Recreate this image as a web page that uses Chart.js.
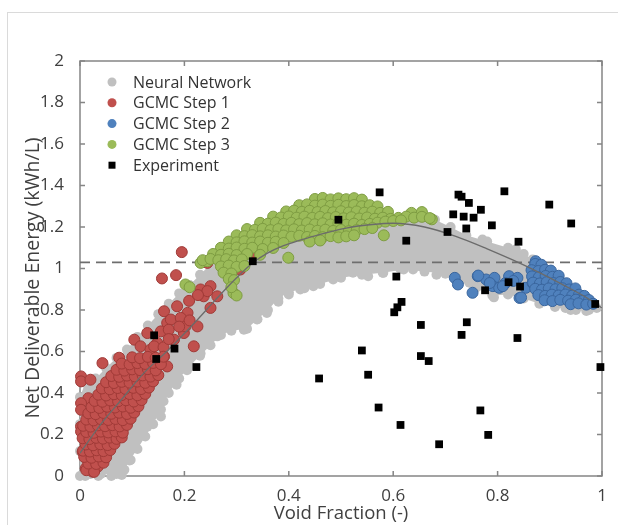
<!DOCTYPE html>
<html>
<head>
<meta charset="utf-8">
<script src="https://cdn.jsdelivr.net/npm/chart.js@4.4.1/dist/chart.umd.min.js"></script>
<style>
  html, body { margin: 0; padding: 0; background: #fff; }
  #wrap { position: relative; width: 618px; height: 525px; overflow: hidden; }
  #frame { position: absolute; left: 7px; top: 12px; width: 700px; height: 600px;
           border-left: 1px solid #dadada; border-top: 1px solid #dadada; pointer-events: none; }
</style>
</head>
<body>
<div id="wrap">
  <canvas id="chart" width="618" height="525"></canvas>
  <div id="frame"></div>
</div>
<script>
// axis tick labels and titles
const xTickLabels = ['0', '0.2', '0.4', '0.6', '0.8', '1'];
const yTickLabels = ['0', '0.2', '0.4', '0.6', '0.8', '1', '1.2', '1.4', '1.6', '1.8', '2'];
const xTitle = 'Void Fraction (-)';
const yTitle = 'Net Deliverable Energy (kWh/L)';

// outline of the dense neural network cloud (upper edge left->right, lower edge right->left)
const nnBand = [
  [0.0,0.0],[0.0,0.12],[0.0,0.25],[0.0,0.38],[0.01,0.45],[0.03,0.47],[0.05,0.52],[0.07,0.57],
  [0.09,0.61],[0.11,0.67],[0.13,0.725],[0.15,0.78],[0.17,0.83],[0.19,0.88],[0.21,0.92],[0.23,0.97],
  [0.25,1.02],[0.27,1.07],[0.29,1.1],[0.33,1.14],[0.38,1.18],[0.45,1.21],[0.55,1.23],[0.63,1.24],
  [0.68,1.235],[0.71,1.2],[0.74,1.16],[0.78,1.13],[0.82,1.1],[0.85,1.07],[0.87,1.04],[0.90,0.99],
  [0.93,0.93],[0.96,0.87],[0.985,0.83],[0.99,0.81],
  [0.97,0.795],[0.94,0.80],[0.91,0.815],[0.88,0.83],[0.85,0.855],[0.82,0.875],[0.79,0.87],[0.76,0.91],
  [0.73,0.945],[0.70,0.975],[0.66,0.985],[0.62,0.995],[0.58,0.98],[0.54,0.97],[0.50,0.955],[0.46,0.925],
  [0.43,0.905],[0.40,0.885],[0.38,0.855],[0.36,0.80],[0.34,0.755],[0.32,0.71],[0.29,0.70],[0.27,0.68],
  [0.25,0.63],[0.23,0.58],[0.21,0.53],[0.19,0.47],[0.17,0.40],[0.155,0.32],[0.14,0.25],[0.125,0.19],
  [0.11,0.13],[0.095,0.075],[0.085,0.03],[0.07,0.01],[0.04,0.01],[0.02,0.01]
];

// loose neural network points around the edges of the cloud
const nnPoints = [
  [0.097,0.077],[0.072,0.045],[0.104,0.174],[0.129,0.238],[0.155,0.287],[0.16,0.36],[0.185,0.44],
  [0.205,0.51],[0.231,0.59],[0.263,0.673],[0.294,0.74],[0.314,0.705],[0.339,0.754],[0.358,0.786],
  [0.38,0.84],[0.40,0.875],[0.422,0.899],[0.447,0.915],[0.485,0.947],[0.523,0.98],[0.552,0.963],
  [0.581,0.979],[0.613,1.0],[0.638,0.995],[0.683,0.97],[0.746,0.931],[0.793,0.861],[0.95,0.80],
  [0.93,0.81],[0.975,0.80],[0.676,1.229],[0.727,1.15],[0.771,1.14],[0.835,1.092],[0.867,1.043],
  [0.01,0.0],[0.035,0.0],[0.06,0.0],[0.08,0.005],[0.35,0.80]
];

const gcmcStep1 = [
  // sparse points
  [0.002,0.48],[0.002,0.456],[0.020,0.464],[0.043,0.544],[0.016,0.375],[0.002,0.351],[0.002,0.319],
  [0.002,0.238],[0.002,0.214],[0.005,0.117],[0.015,0.077],[0.011,0.037],[0.024,0.021],[0.034,0.045],
  [0.167,0.528],[0.161,0.576],[0.180,0.657],[0.199,0.689],[0.218,0.625],[0.225,0.721],[0.206,0.786],
  [0.186,0.818],[0.161,0.794],[0.231,0.899],[0.25,0.915],[0.25,0.81],[0.237,0.866],[0.263,0.866],
  [0.104,0.657],[0.116,0.625],[0.135,0.609],[0.148,0.641],[0.129,0.689],[0.155,0.697],[0.167,0.738],
  [0.195,1.079],[0.157,0.952],[0.184,0.968],[0.209,0.844],[0.244,0.891],[0.174,0.754],[0.193,0.762],
  [0.202,0.721],[0.170,0.705],[0.142,0.625],[0.16,0.62],[0.17,0.66],[0.19,0.72],[0.21,0.75],
  [0.244,1.027],[0.307,0.995],[0.333,1.076],[0.358,1.14],[0.226,0.872],[0.075,0.57],
  // dense cluster, row by row
  [0.012,0.028],[0.027,0.02],
  [0.016,0.06],[0.031,0.058],[0.045,0.064],
  [0.008,0.092],[0.022,0.088],[0.036,0.094],[0.05,0.09],
  [0.006,0.122],[0.019,0.118],[0.032,0.124],[0.045,0.12],[0.058,0.125],
  [0.011,0.152],[0.025,0.148],[0.039,0.153],[0.053,0.149],[0.066,0.155],
  [0.005,0.182],[0.018,0.178],[0.031,0.184],[0.044,0.18],[0.057,0.185],[0.07,0.179],[0.08,0.186],
  [0.012,0.212],[0.026,0.208],[0.04,0.214],[0.054,0.21],[0.068,0.215],[0.082,0.209],
  [0.006,0.242],[0.02,0.238],[0.034,0.244],[0.048,0.24],[0.062,0.245],[0.076,0.239],[0.09,0.246],
  [0.012,0.272],[0.026,0.268],[0.04,0.274],[0.054,0.27],[0.068,0.275],[0.082,0.269],[0.097,0.276],
  [0.016,0.302],[0.03,0.298],[0.045,0.304],[0.06,0.3],[0.075,0.305],[0.09,0.299],[0.104,0.306],
  [0.022,0.332],[0.037,0.328],[0.052,0.334],[0.067,0.33],[0.082,0.335],[0.097,0.329],[0.112,0.336],
  [0.028,0.362],[0.043,0.358],[0.058,0.364],[0.073,0.36],[0.088,0.365],[0.103,0.359],[0.118,0.366],
  [0.035,0.392],[0.05,0.388],[0.065,0.394],[0.08,0.39],[0.095,0.395],[0.11,0.389],[0.125,0.396],
  [0.042,0.422],[0.057,0.418],[0.072,0.424],[0.087,0.42],[0.102,0.425],[0.117,0.419],[0.132,0.426],
  [0.05,0.452],[0.065,0.448],[0.08,0.454],[0.095,0.45],[0.11,0.455],[0.125,0.449],[0.14,0.456],
  [0.06,0.482],[0.075,0.478],[0.09,0.484],[0.105,0.48],[0.12,0.485],[0.135,0.479],[0.15,0.486],
  [0.07,0.512],[0.085,0.508],[0.1,0.514],[0.115,0.51],[0.13,0.515],[0.145,0.509],
  [0.08,0.542],[0.095,0.538],[0.11,0.544],[0.125,0.54],[0.14,0.545],[0.155,0.539],
  [0.1,0.572],[0.115,0.568],[0.13,0.574],[0.145,0.57],[0.16,0.575]
];

const gcmcStep2 = [
  // sparse row on the left
  [0.718,0.955],[0.724,0.923],[0.762,0.963],[0.752,0.883],[0.778,0.947],[0.794,0.955],[0.791,0.915],
  [0.803,0.907],[0.822,0.963],[0.838,0.955],[0.854,0.907],[0.842,0.858],[0.763,0.966],[0.815,0.93],
  [0.83,0.94],[0.785,0.93],[0.845,0.86],[0.81,0.915],[0.867,0.93],
  // dense wedge
  [0.873,1.035],[0.872,1.022],[0.884,1.018],
  [0.865,0.992],[0.878,0.988],[0.891,0.994],[0.902,0.99],
  [0.866,0.962],[0.879,0.958],[0.892,0.964],[0.905,0.96],[0.917,0.965],
  [0.868,0.932],[0.881,0.928],[0.894,0.934],[0.907,0.93],[0.92,0.935],[0.932,0.929],
  [0.872,0.902],[0.885,0.898],[0.898,0.904],[0.911,0.9],[0.924,0.905],[0.937,0.899],[0.949,0.904],
  [0.878,0.872],[0.891,0.868],[0.904,0.874],[0.917,0.87],[0.93,0.875],[0.943,0.869],[0.956,0.874],[0.966,0.868],
  [0.89,0.847],[0.905,0.843],[0.92,0.849],[0.935,0.845],[0.95,0.85],[0.963,0.844],[0.975,0.848],
  [0.94,0.828],[0.955,0.832],[0.97,0.826],[0.983,0.83]
];

const gcmcStep3 = [
  // sparse points on the lower left
  [0.202,0.923],[0.21,0.91],[0.294,0.882],[0.30,0.87],[0.231,1.027],[0.244,1.035],[0.399,1.052],
  [0.582,1.16],[0.674,1.237],
  // dense cap, row by row
  [0.45,1.335],[0.465,1.34],[0.48,1.333],[0.495,1.338],[0.51,1.334],[0.525,1.339],[0.54,1.332],
  [0.42,1.305],[0.435,1.309],[0.45,1.303],[0.465,1.308],[0.48,1.302],[0.495,1.307],[0.51,1.301],
  [0.525,1.306],[0.54,1.3],[0.555,1.305],[0.57,1.299],
  [0.395,1.275],[0.41,1.279],[0.425,1.273],[0.44,1.278],[0.455,1.272],[0.47,1.277],[0.485,1.271],
  [0.5,1.276],[0.515,1.27],[0.53,1.275],[0.545,1.269],[0.56,1.274],[0.575,1.268],[0.59,1.273],
  [0.635,1.268],[0.655,1.272],
  [0.37,1.25],[0.385,1.246],[0.4,1.251],[0.415,1.245],[0.43,1.25],[0.445,1.244],[0.46,1.249],
  [0.475,1.243],[0.49,1.248],[0.505,1.242],[0.52,1.247],[0.535,1.241],[0.55,1.246],[0.565,1.24],
  [0.58,1.245],[0.595,1.239],[0.61,1.244],[0.625,1.25],[0.64,1.245],[0.655,1.249],[0.67,1.243],
  [0.345,1.22],[0.36,1.216],[0.375,1.221],[0.39,1.215],[0.405,1.22],[0.42,1.214],[0.435,1.219],
  [0.45,1.213],[0.465,1.218],[0.48,1.212],[0.495,1.217],[0.51,1.211],[0.525,1.216],[0.54,1.21],
  [0.555,1.215],[0.57,1.221],[0.585,1.226],[0.6,1.229],[0.615,1.232],
  [0.32,1.19],[0.335,1.186],[0.35,1.191],[0.365,1.185],[0.38,1.19],[0.395,1.184],[0.41,1.189],
  [0.425,1.183],[0.44,1.188],[0.455,1.182],[0.47,1.187],[0.485,1.181],[0.5,1.186],[0.515,1.18],
  [0.53,1.185],[0.545,1.19],[0.56,1.195],
  [0.3,1.16],[0.315,1.156],[0.33,1.161],[0.345,1.155],[0.36,1.16],[0.375,1.154],[0.39,1.159],
  [0.405,1.153],[0.42,1.158],[0.435,1.152],[0.45,1.157],[0.465,1.151],[0.48,1.156],[0.495,1.15],
  [0.51,1.155],[0.525,1.16],
  [0.285,1.13],[0.3,1.126],[0.315,1.131],[0.33,1.125],[0.345,1.13],[0.36,1.124],[0.375,1.129],
  [0.39,1.123],[0.44,1.13],[0.46,1.135],
  [0.27,1.1],[0.285,1.096],[0.3,1.101],[0.315,1.095],[0.33,1.1],[0.35,1.094],[0.37,1.099],
  [0.255,1.07],[0.27,1.066],[0.285,1.071],[0.3,1.065],[0.32,1.07],[0.345,1.066],
  [0.235,1.04],[0.25,1.046],[0.265,1.04],[0.28,1.045],[0.295,1.039],[0.31,1.044],
  [0.27,1.01],[0.285,1.014],[0.3,1.008],[0.315,1.012],
  [0.275,0.98],[0.29,0.976],
  [0.285,0.95],[0.295,0.944],
  [0.29,0.91]
];

const experiment = [
  [0.574,1.367],[0.495,1.235],[0.625,1.134],[0.606,0.961],[0.616,0.839],[0.608,0.813],[0.602,0.789],
  [0.653,0.728],[0.540,0.605],[0.458,0.470],[0.552,0.488],[0.572,0.330],[0.614,0.246],[0.653,0.578],
  [0.668,0.554],[0.688,0.153],[0.725,1.356],[0.731,1.346],[0.745,1.316],[0.768,1.283],[0.715,1.261],
  [0.735,1.250],[0.754,1.245],[0.740,1.193],[0.704,1.176],[0.789,1.208],[0.813,1.372],[0.899,1.308],
  [0.941,1.217],[0.840,1.129],[0.821,0.934],[0.776,0.895],[0.843,0.913],[0.987,0.829],[0.997,0.525],
  [0.741,0.741],[0.731,0.680],[0.838,0.665],[0.767,0.316],[0.782,0.198],[0.142,0.678],[0.146,0.564],
  [0.181,0.614],[0.223,0.525],[0.331,1.035]
];

// trend curve and target line
const fitX = [0, 0.04, 0.08, 0.12, 0.17, 0.22, 0.26, 0.30, 0.33, 0.36, 0.39, 0.42, 0.46, 0.51, 0.56, 0.60, 0.66, 0.72, 0.78, 0.83, 0.88, 0.93, 0.97, 1.0];
const fitY = [0.11, 0.25, 0.37, 0.49, 0.61, 0.74, 0.85, 0.955, 1.025, 1.075, 1.11, 1.135, 1.165, 1.195, 1.212, 1.218, 1.2, 1.155, 1.095, 1.04, 0.98, 0.915, 0.86, 0.81];
const targetLevel = 1.03;

const toXY = arr => arr.map(p => ({ x: p[0], y: p[1] }));

const boxPlugin = {
  id: 'box',
  beforeDatasetsDraw(chart) {
    const { ctx, chartArea: a, scales: { x, y } } = chart;
    ctx.save();
    ctx.strokeStyle = '#858585';
    ctx.lineWidth = 1.5;
    ctx.strokeRect(a.left, a.top, a.right - a.left, a.bottom - a.top);
    ctx.beginPath();
    x.ticks.forEach(t => {
      const px = x.getPixelForValue(t.value);
      ctx.moveTo(px, a.bottom); ctx.lineTo(px, a.bottom - 5);
      ctx.moveTo(px, a.top); ctx.lineTo(px, a.top + 5);
    });
    y.ticks.forEach(t => {
      const py = y.getPixelForValue(t.value);
      ctx.moveTo(a.left, py); ctx.lineTo(a.left + 5, py);
      ctx.moveTo(a.right, py); ctx.lineTo(a.right - 5, py);
    });
    ctx.stroke();
    ctx.restore();
  }
};

const legendPlugin = {
  id: 'innerLegend',
  afterDatasetsDraw(chart) {
    const { ctx, chartArea: a } = chart;
    const items = chart.data.datasets.filter(d => d.inLegend);
    ctx.save();
    ctx.font = '16px "Open Sans"';
    ctx.textBaseline = 'middle';
    items.forEach((d, i) => {
      const cy = a.top + 21 + i * 20.8;
      const cx = a.left + 32;
      ctx.fillStyle = d.pointBackgroundColor;
      if (d.pointStyle === 'rect') {
        ctx.fillRect(cx - 3.5, cy - 3.5, 7, 7);
      } else {
        ctx.beginPath();
        ctx.arc(cx, cy, 4.5, 0, Math.PI * 2);
        ctx.fill();
      }
      ctx.fillStyle = '#333';
      ctx.fillText(d.label, a.left + 53, cy + 1);
    });
    // rotated y axis title, sitting a little below the plot centre as in the original
    ctx.translate(33.5, 278);
    ctx.rotate(-Math.PI / 2);
    ctx.font = '19.5px "Open Sans"';
    ctx.textAlign = 'center';
    ctx.fillStyle = '#404040';
    ctx.fillText(yTitle, 0, 0);
    ctx.restore();
  }
};

function pts(label, data, fill, border, order, legend) {
  return {
    label: label, data: toXY(data), order: order, inLegend: legend,
    pointRadius: 5.5, pointBackgroundColor: fill, pointBorderColor: border,
    pointBorderWidth: 1, showLine: false, clip: false
  };
}

new Chart(document.getElementById('chart'), {
  type: 'scatter',
  data: {
    datasets: [
      {
        label: 'Neural Network', data: toXY(nnPoints), order: 6, inLegend: true,
        pointRadius: 5, pointBackgroundColor: '#c0c0c0', pointBorderWidth: 0, showLine: false, clip: false
      },
      pts('GCMC Step 1', gcmcStep1, 'rgb(192,80,77)', 'rgb(160,58,55)', 4, true),
      pts('GCMC Step 2', gcmcStep2, 'rgb(79,129,189)', 'rgb(58,102,158)', 3, true),
      pts('GCMC Step 3', gcmcStep3, 'rgb(155,187,89)', 'rgb(126,156,66)', 2, true),
      {
        label: 'Experiment', data: toXY(experiment), order: 0, inLegend: true,
        pointStyle: 'rect', pointRadius: 5.5, pointBackgroundColor: '#000', pointBorderWidth: 0,
        showLine: false, clip: false
      },
      {
        label: 'NN cloud', data: toXY(nnBand), order: 7, showLine: true, fill: 'shape',
        backgroundColor: '#c0c0c0', borderWidth: 0, borderColor: 'rgba(0,0,0,0)',
        pointRadius: 5, pointBackgroundColor: '#c0c0c0', pointBorderWidth: 0, clip: false
      },
      {
        label: 'Fit', data: fitX.map((v, i) => ({ x: v, y: fitY[i] })), order: 1, showLine: true,
        borderColor: '#6b6b6b', borderWidth: 1.3, pointRadius: 0,
        cubicInterpolationMode: 'monotone', fill: false
      },
      {
        label: 'Target', data: [{ x: 0, y: targetLevel }, { x: 1, y: targetLevel }], order: 5,
        showLine: true, borderColor: '#6e6e6e', borderWidth: 1.8, borderDash: [10, 6],
        pointRadius: 0, fill: false
      }
    ]
  },
  options: {
    responsive: false,
    animation: false,
    devicePixelRatio: 1,
    events: [],
    layout: { padding: { top: 61, right: 16, left: 0, bottom: 0 } },
    plugins: { legend: { display: false }, tooltip: { enabled: false } },
    scales: {
      x: {
        type: 'linear', min: 0, max: 1,
        grid: { display: false }, border: { display: false },
        ticks: {
          stepSize: 0.2, padding: 2, color: '#404040',
          font: { family: '"Open Sans"', size: 17 },
          callback: (v, i) => xTickLabels[i]
        },
        title: {
          display: true, text: xTitle, color: '#404040',
          font: { family: '"Open Sans"', size: 18.5 }, padding: { top: 0, bottom: 0 }
        },
        afterFit: s => { s.height = 49; }
      },
      y: {
        type: 'linear', min: 0, max: 2,
        grid: { display: false }, border: { display: false },
        ticks: {
          stepSize: 0.2, padding: 8, color: '#404040',
          font: { family: '"Open Sans"', size: 17 },
          callback: (v, i) => yTickLabels[i]
        },
        title: { display: false },
        afterFit: s => { s.width = 80; }
      }
    }
  },
  plugins: [boxPlugin, legendPlugin]
});
</script>
</body>
</html>
